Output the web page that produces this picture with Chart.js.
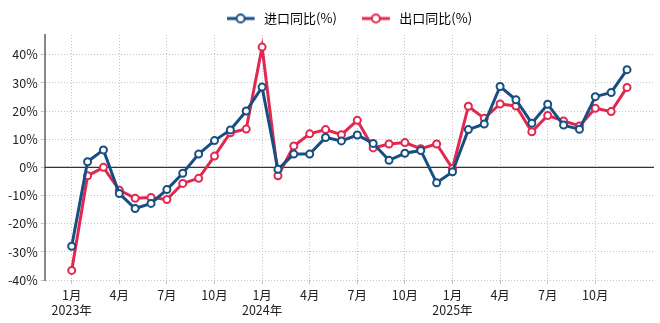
<!DOCTYPE html>
<html>
<head>
<meta charset="utf-8">
<script src="https://cdn.jsdelivr.net/npm/chart.js@4"></script>
<style>
  html, body { margin: 0; padding: 0; background: #fff; }
  #wrap { width: 660px; height: 323px; }
</style>
</head>
<body>
<div id="wrap"><canvas id="trade-chart"></canvas></div>
<script>
// 2023-01 .. 2025-12
const months = [
    '2023-01','2023-02','2023-03','2023-04','2023-05','2023-06','2023-07','2023-08','2023-09','2023-10','2023-11','2023-12',
    '2024-01','2024-02','2024-03','2024-04','2024-05','2024-06','2024-07','2024-08','2024-09','2024-10','2024-11','2024-12',
    '2025-01','2025-02','2025-03','2025-04','2025-05','2025-06','2025-07','2025-08','2025-09','2025-10','2025-11','2025-12'
]
const importYoY = [
    -28.0, 2.0, 6.2, -9.3, -14.6, -12.8, -7.9, -2.1, 4.7, 9.5, 13.3, 20.0,
    28.5, -0.7, 4.7, 4.7, 10.6, 9.4, 11.5, 8.5, 2.5, 5.0, 6.0, -5.5,
    -1.6, 13.4, 15.4, 28.7, 24.0, 15.7, 22.4, 15.0, 13.5, 25.1, 26.6, 34.7
]
const exportYoY = [
    -36.6, -3.0, 0.0, -8.1, -11.0, -10.7, -11.4, -5.7, -3.9, 4.0, 12.3, 13.6,
    42.7, -3.0, 7.6, 11.9, 13.4, 11.6, 16.7, 6.9, 8.3, 8.8, 6.6, 8.3,
    -0.4, 21.7, 17.4, 22.5, 21.8, 12.6, 18.4, 16.5, 14.7, 21.0, 19.8, 28.4
]
const tickPositions = [0, 3, 6, 9, 12, 15, 18, 21, 24, 27, 30, 33]
const tickLabels = [
    ['1月', '2023年'], '4月', '7月', '10月',
    ['1月', '2024年'], '4月', '7月', '10月',
    ['1月', '2025年'], '4月', '7月', '10月'
]

const blue = '#174f82'
const red = '#e2284f'

// line + hollow circle, with a little blank space after it before the text
function legendIcon(color) {
    const c = document.createElement('canvas')
    c.width = 31
    c.height = 12
    const g = c.getContext('2d')
    g.strokeStyle = color
    g.lineWidth = 3
    g.beginPath()
    g.moveTo(0, 6)
    g.lineTo(28, 6)
    g.stroke()
    g.fillStyle = '#fff'
    g.lineWidth = 2
    g.beginPath()
    g.arc(14, 6, 4, 0, Math.PI * 2)
    g.fill()
    g.stroke()
    return c
}

const zeroLine = {
    id: 'zeroLine',
    beforeDatasetsDraw(chart) {
        const y = chart.scales.y.getPixelForValue(0)
        const a = chart.chartArea
        const ctx = chart.ctx
        ctx.save()
        ctx.strokeStyle = '#333'
        ctx.lineWidth = 1.2
        ctx.beginPath()
        ctx.moveTo(a.left, y)
        ctx.lineTo(a.right, y)
        ctx.stroke()
        ctx.restore()
    }
}

// center the legend over the plot area rather than the whole canvas
const legendShift = {
    id: 'legendShift',
    afterLayout(chart) {
        const a = chart.chartArea
        const d = (a.left + a.right) / 2 - chart.width / 2
        chart.legend.left += d
        chart.legend.right += d
    }
}

function series(values) {
    return values.map(function(v, i) { return { x: i, y: v } })
}

function drawChart() {
    const ctx = document.getElementById('trade-chart')
    new Chart(ctx, {
        type: 'line',
        data: {
            labels: months,
            datasets: [{
                label: '进口同比(%)',
                data: series(importYoY),
                borderColor: blue,
                backgroundColor: '#fff',
                borderWidth: 3,
                pointRadius: 3.5,
                pointBorderWidth: 2,
                pointBackgroundColor: '#fff',
                pointBorderColor: blue
            }, {
                label: '出口同比(%)',
                data: series(exportYoY),
                borderColor: red,
                backgroundColor: '#fff',
                borderWidth: 3,
                pointRadius: 3.5,
                pointBorderWidth: 2,
                pointBackgroundColor: '#fff',
                pointBorderColor: red
            }]
        },
        options: {
            responsive: true,
            maintainAspectRatio: false,
            animation: false,
            layout: { padding: { left: 5, right: 5, top: -13, bottom: 1 } },
            font: { family: '"Noto Sans CJK SC", "Noto Sans", sans-serif' },
            plugins: {
                legend: {
                    position: 'top',
                    labels: {
                        usePointStyle: true,
                        pointStyleWidth: 31,
                        color: '#222',
                        font: { size: 13, family: '"Noto Sans CJK SC", sans-serif' },
                        padding: 25,
                        generateLabels: function(chart) {
                            return chart.data.datasets.map(function(ds, i) {
                                return {
                                    text: ds.label,
                                    pointStyle: legendIcon(ds.borderColor),
                                    fillStyle: '#fff',
                                    strokeStyle: ds.borderColor,
                                    lineWidth: 0,
                                    datasetIndex: i
                                }
                            })
                        }
                    }
                },
                tooltip: { enabled: false }
            },
            scales: {
                x: {
                    type: 'linear',
                    min: -1.7,
                    max: 36.7,
                    afterBuildTicks: function(scale) {
                        scale.ticks = tickPositions.map(function(v) { return { value: v } })
                    },
                    ticks: {
                        autoSkip: false,
                        maxRotation: 0,
                        color: '#222',
                        font: { size: 12.5, family: '"Noto Sans CJK SC", sans-serif' },
                        padding: 4,
                        callback: function(value) {
                            const k = tickPositions.indexOf(value)
                            return k >= 0 ? tickLabels[k] : ''
                        }
                    },
                    grid: {
                        color: '#c4c4c4',
                        lineWidth: 1,
                        tickLength: 4,
                        drawTicks: true
                    },
                    border: { display: false, dash: [1, 2] }
                },
                y: {
                    min: -40,
                    max: 47,
                    afterBuildTicks: function(scale) {
                        const t = []
                        for (let v = -40; v <= 40; v += 10) t.push({ value: v })
                        scale.ticks = t
                    },
                    ticks: {
                        color: '#222',
                        font: { size: 12.5, family: '"Noto Sans CJK SC", sans-serif' },
                        padding: 3,
                        callback: function(value) { return value + '%' }
                    },
                    grid: {
                        color: '#c4c4c4',
                        lineWidth: 1,
                        tickLength: 4
                    },
                    border: { display: true, color: '#888', width: 2, dash: [1, 2] }
                }
            }
        },
        plugins: [zeroLine, legendShift]
    })
}

drawChart()
</script>
</body>
</html>
